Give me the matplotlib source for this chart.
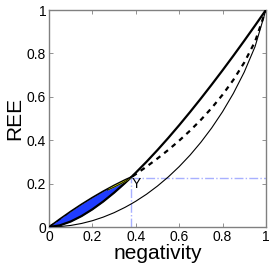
import numpy as np
import matplotlib
matplotlib.use("Agg")
import matplotlib.pyplot as plt

plt.rcParams['font.family'] = ['Liberation Sans', 'DejaVu Sans']

# negativity grid
neg = [0.0, 0.05, 0.1, 0.15, 0.2, 0.25, 0.3, 0.35, 0.38, 0.4, 0.45, 0.5,
       0.55, 0.6, 0.65, 0.7, 0.75, 0.8, 0.85, 0.9, 0.95, 1.0]
# pure states (thick solid)
ree_pure = [0.0, 0.0076, 0.0253, 0.0504, 0.0815, 0.1176, 0.1581, 0.2025, 0.2307,
            0.2502, 0.3010, 0.3546, 0.4106, 0.4690, 0.5295, 0.5919, 0.6561,
            0.7219, 0.7893, 0.8582, 0.9285, 1.0]
# Horodecki states (dashed)
ree_horo = [0.0, 0.0315, 0.0607, 0.0894, 0.1184, 0.1479, 0.1784, 0.2101, 0.2299,
            0.2434, 0.2784, 0.3156, 0.3552, 0.3978, 0.4437, 0.4936, 0.5484,
            0.6093, 0.6780, 0.7576, 0.8546, 1.0]
# Werner states (thin solid)
ree_werner = [0.0, 0.0018, 0.0072, 0.0163, 0.0290, 0.0456, 0.0659, 0.0903, 0.1070,
              0.1187, 0.1513, 0.1887, 0.2308, 0.2781, 0.3309, 0.3902, 0.4564,
              0.5310, 0.6157, 0.7136, 0.8313, 1.0]

# upper edge of the shaded region (below Y)
edge_neg = [0.0, 0.05, 0.1, 0.15, 0.2, 0.25, 0.3, 0.33, 0.35, 0.38]
edge_ree = [0.0, 0.037, 0.072, 0.105, 0.136, 0.165, 0.192, 0.207, 0.217, 0.2305]
edge_pure = [0.0, 0.0076, 0.0253, 0.0504, 0.0815, 0.1176, 0.1581, 0.1840, 0.2025, 0.2307]

# thin yellow strip along the top edge
strip_neg = [0.27, 0.30, 0.33, 0.35, 0.38]
strip_low = [0.170, 0.184, 0.199, 0.210, 0.2305]
strip_high = [0.177, 0.193, 0.208, 0.218, 0.2305]

# point Y
y_neg, y_ree = 0.38, 0.228

fig = plt.figure(figsize=(2.73, 2.66), dpi=100)
ax = fig.add_axes([0.1795, 0.1466, 0.7945, 0.8158])

lb = '#a8b0ff'
ax.plot([y_neg, 1], [y_ree, y_ree], color=lb, lw=1, ls='-.')
ax.plot([y_neg, y_neg], [0, y_ree], color=lb, lw=1, ls='-.')

ax.plot(neg, ree_werner, color='black', lw=0.8)
ax.plot(neg, ree_horo, color='black', lw=1.6, ls=(0, (2.2, 2.2)))

ax.fill_between(edge_neg, edge_pure, edge_ree, color='#1f3cff', lw=0, zorder=3)
ax.plot(edge_neg, edge_ree, color='black', lw=1.2, zorder=4)
ax.fill_between(strip_neg, strip_low, strip_high, color='#d8e000', lw=0, zorder=5)
ax.plot(strip_neg, strip_low, color='black', lw=0.6, zorder=5)
ax.plot(neg, ree_pure, color='black', lw=1.6, zorder=4)

ax.text(y_neg + 0.003, y_ree + 0.002, 'Y', fontsize=10, ha='left', va='top')

ax.set_xlim(0, 1)
ax.set_ylim(0, 1)
ticks = [0, 0.2, 0.4, 0.6, 0.8, 1]
ticklabels = ['0', '0.2', '0.4', '0.6', '0.8', '1']
ax.set_xticks(ticks)
ax.set_xticklabels(ticklabels)
ax.set_yticks(ticks)
ax.set_yticklabels(ticklabels)
ax.tick_params(direction='in', length=3, width=0.6, color='#808080',
               labelsize=10, top=True, right=True, pad=2)
for s in ax.spines.values():
    s.set_color('#808080')
    s.set_linewidth(1.0)

ax.set_xlabel('negativity', fontsize=15, labelpad=0)
ax.set_ylabel('REE', fontsize=15, labelpad=2)

fig.savefig('out.png', dpi=100)
